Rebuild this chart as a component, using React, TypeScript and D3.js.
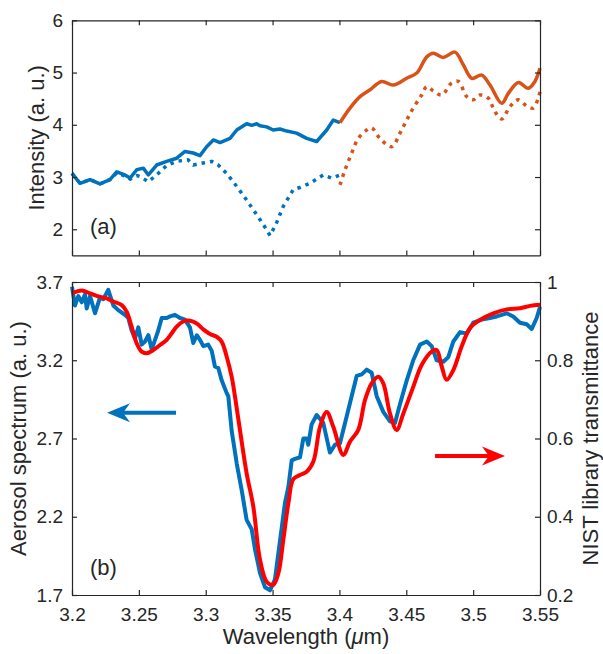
import React, { useEffect, useRef } from 'react';
import * as d3 from 'd3';

// ---- data (wavelength in um, value) ----
const topBlueSolid: [number, number][] = [
  [3.2, 3.07], [3.206, 2.88], [3.2135, 2.95], [3.2209, 2.87], [3.2284, 2.95], [3.2334, 3.1],
  [3.2396, 3.04], [3.2434, 2.98], [3.2484, 3.14], [3.2533, 3.17], [3.2571, 3.04], [3.2633, 3.23],
  [3.2708, 3.3], [3.2783, 3.36], [3.2845, 3.49], [3.2907, 3.46], [3.2957, 3.41], [3.3007, 3.58],
  [3.3057, 3.71], [3.3107, 3.66], [3.3182, 3.74], [3.3232, 3.9], [3.3306, 4.02], [3.3345, 3.99],
  [3.3381, 4.02], [3.3406, 3.98], [3.3456, 3.96], [3.3505, 3.9], [3.3555, 3.92], [3.3606, 3.88],
  [3.368, 3.84], [3.3755, 3.74], [3.383, 3.68], [3.3905, 3.9], [3.3954, 4.09], [3.4004, 4.04],
];

const topBlueDotted: [number, number][] = [
  [3.2, 3.07], [3.206, 2.88], [3.2135, 2.95], [3.2209, 2.87], [3.2284, 2.95], [3.2334, 3.08],
  [3.2396, 3.02], [3.2434, 2.96], [3.2484, 3.03], [3.2509, 3.01], [3.2571, 2.91], [3.2633, 3.04],
  [3.2708, 3.22], [3.2783, 3.3], [3.2868, 3.33], [3.2907, 3.23], [3.2982, 3.27], [3.3045, 3.3],
  [3.3094, 3.23], [3.3157, 3.07], [3.3232, 2.82], [3.3306, 2.56], [3.3381, 2.28], [3.3456, 1.99],
  [3.3481, 1.88], [3.3526, 2.1], [3.358, 2.44], [3.3618, 2.6], [3.3655, 2.76], [3.3705, 2.8],
  [3.378, 2.88], [3.3879, 3.04], [3.3942, 2.98], [3.4004, 3.04],
];

const topOrangeSolid: [number, number][] = [
  [3.4004, 4.04], [3.4079, 4.32], [3.4154, 4.54], [3.4229, 4.67], [3.4316, 4.83], [3.4403, 4.76],
  [3.4503, 4.89], [3.4578, 4.99], [3.4653, 5.3], [3.4702, 5.37], [3.4777, 5.29], [3.4864, 5.39],
  [3.4926, 5.15], [3.4989, 4.89], [3.5064, 4.95], [3.5126, 4.76], [3.5214, 4.41], [3.5263, 4.6],
  [3.5338, 4.81], [3.5412, 4.7], [3.5462, 4.83], [3.55, 5.08],
];

const topOrangeDotted: [number, number][] = [
  [3.4004, 2.85], [3.4042, 3.14], [3.4092, 3.46], [3.4141, 3.74], [3.4204, 3.9], [3.4241, 3.94],
  [3.4303, 3.74], [3.4391, 3.58], [3.4453, 3.84], [3.4503, 4.09], [3.4552, 4.32], [3.4615, 4.57],
  [3.4653, 4.73], [3.4702, 4.65], [3.4765, 4.57], [3.4839, 4.8], [3.4889, 4.83], [3.4952, 4.54],
  [3.5001, 4.48], [3.5051, 4.57], [3.5113, 4.51], [3.5163, 4.25], [3.5214, 4.11], [3.5276, 4.35],
  [3.5338, 4.48], [3.54, 4.36], [3.545, 4.32], [3.5487, 4.51], [3.55, 4.63],
];

const aerosol: [number, number][] = [
  [3.2, 3.67], [3.2022, 3.55], [3.2047, 3.61], [3.2073, 3.57], [3.2097, 3.62], [3.211, 3.53],
  [3.2135, 3.61], [3.2172, 3.5], [3.2209, 3.6], [3.2234, 3.59], [3.2271, 3.65], [3.2309, 3.55],
  [3.2346, 3.52], [3.2396, 3.49], [3.2421, 3.47], [3.2446, 3.39], [3.2471, 3.34], [3.2496, 3.41],
  [3.2521, 3.3], [3.2546, 3.32], [3.2571, 3.36], [3.2596, 3.27], [3.2621, 3.33], [3.2645, 3.39],
  [3.2671, 3.47], [3.2708, 3.47], [3.2733, 3.48], [3.277, 3.49], [3.2808, 3.47], [3.2845, 3.46],
  [3.2882, 3.41], [3.2907, 3.31], [3.2933, 3.36], [3.2957, 3.33], [3.2982, 3.29], [3.3019, 3.3],
  [3.3045, 3.26], [3.3069, 3.16], [3.3094, 3.15], [3.312, 3.07], [3.3157, 2.99], [3.3169, 2.97],
  [3.3194, 2.75], [3.3232, 2.54], [3.3269, 2.37], [3.3306, 2.18], [3.3344, 2.12], [3.3369, 1.99],
  [3.3406, 1.84], [3.3443, 1.75], [3.3481, 1.73], [3.3518, 1.8], [3.3556, 2.05], [3.3593, 2.29],
  [3.3618, 2.39], [3.3643, 2.56], [3.3668, 2.57], [3.3705, 2.58], [3.373, 2.7], [3.3755, 2.7],
  [3.3767, 2.66], [3.3792, 2.79], [3.383, 2.85], [3.3879, 2.8], [3.3929, 2.61], [3.3967, 2.66],
  [3.4004, 2.67], [3.4054, 2.84], [3.4129, 3.1], [3.4167, 3.11], [3.4204, 3.14], [3.4241, 3.12],
  [3.4279, 2.97], [3.4328, 2.87], [3.4378, 2.81], [3.4416, 2.8], [3.4453, 2.92], [3.4503, 3.07],
  [3.4552, 3.2], [3.4603, 3.3], [3.4653, 3.32], [3.469, 3.29], [3.4727, 3.2], [3.4777, 3.19],
  [3.4814, 3.22], [3.4852, 3.32], [3.4902, 3.38], [3.4952, 3.37], [3.5001, 3.44], [3.5064, 3.46],
  [3.5126, 3.47], [3.5176, 3.48], [3.5251, 3.5], [3.53, 3.48], [3.535, 3.44], [3.54, 3.43],
  [3.5438, 3.4], [3.5475, 3.47], [3.55, 3.54],
];

const nist: [number, number][] = [
  [3.2, 0.971], [3.2073, 0.978], [3.2135, 0.971], [3.2209, 0.962], [3.226, 0.958], [3.2309, 0.95],
  [3.2372, 0.941], [3.2409, 0.924], [3.2446, 0.886], [3.2484, 0.843], [3.2521, 0.822], [3.2559, 0.818],
  [3.2608, 0.826], [3.2658, 0.839], [3.2708, 0.852], [3.2746, 0.869], [3.2783, 0.886], [3.2832, 0.899],
  [3.2882, 0.901], [3.2933, 0.894], [3.2982, 0.879], [3.3032, 0.867], [3.3082, 0.86], [3.312, 0.847],
  [3.3157, 0.809], [3.3194, 0.758], [3.3219, 0.707], [3.3256, 0.622], [3.3306, 0.511], [3.3356, 0.426],
  [3.3406, 0.29], [3.3456, 0.234], [3.3505, 0.226], [3.3543, 0.255], [3.358, 0.34], [3.3618, 0.434],
  [3.3655, 0.496], [3.3705, 0.507], [3.3755, 0.515], [3.3805, 0.541], [3.3855, 0.63], [3.3905, 0.668],
  [3.3954, 0.63], [3.4029, 0.558], [3.4079, 0.592], [3.4141, 0.622], [3.4191, 0.698], [3.4241, 0.741],
  [3.4291, 0.758], [3.4328, 0.741], [3.4378, 0.664], [3.4428, 0.622], [3.4478, 0.664], [3.4552, 0.732],
  [3.4615, 0.788], [3.469, 0.822], [3.4727, 0.826], [3.4765, 0.784], [3.4802, 0.75], [3.4852, 0.775],
  [3.4914, 0.835], [3.4976, 0.882], [3.5051, 0.903], [3.5151, 0.92], [3.5251, 0.93], [3.535, 0.933],
  [3.5425, 0.939], [3.55, 0.942],
];

const xTicks = [3.2, 3.25, 3.3, 3.35, 3.4, 3.45, 3.5, 3.55];
const xTickLabels = ['3.2', '3.25', '3.3', '3.35', '3.4', '3.45', '3.5', '3.55'];
const topTicks = [2, 3, 4, 5, 6];
const leftTicks = [1.7, 2.2, 2.7, 3.2, 3.7];
const rightTicks = [0.2, 0.4, 0.6, 0.8, 1];

const BLUE = '#0072BD';
const ORANGE = '#D95319';
const RED = '#FF0000';
const INK = '#262626';
const FONT = '"Liberation Sans", Arial, sans-serif';

const App = () => {
  const svgRef = useRef<SVGSVGElement>(null);

  useEffect(() => {
    const svg = d3.select(svgRef.current);
    svg.selectAll('*').remove();

    const L = 72, R = 540;
    const aTop = 20.3, aBot = 255.4;
    const bTop = 282, bBot = 595;

    const x = d3.scaleLinear().domain([3.2, 3.55]).range([L, R]);
    const yA = d3.scaleLinear().domain([1.5, 6]).range([aBot, aTop]);
    const yB = d3.scaleLinear().domain([1.7, 3.7]).range([bBot, bTop]);
    const yR = d3.scaleLinear().domain([0.2, 1]).range([bBot, bTop]);

    const styleAxis = (g: any, labels = true) => {
      g.select('.domain').attr('stroke', INK).attr('stroke-width', 1.2);
      g.selectAll('.tick line').attr('stroke', INK).attr('stroke-width', 1.2);
      g.selectAll('.tick text').attr('fill', INK).attr('font-size', 19).attr('font-family', FONT);
      if (!labels) g.selectAll('.tick text').remove();
    };

    // ---- panel (a) ----
    const lineA = d3.line<[number, number]>().x(d => x(d[0])).y(d => yA(d[1]));
    const lineASmooth = d3.line<[number, number]>().x(d => x(d[0])).y(d => yA(d[1])).curve(d3.curveCatmullRom);
    const drawA = (data: [number, number][], color: string, dotted: boolean, smooth: boolean) => {
      svg.append('path').datum(data)
        .attr('fill', 'none').attr('stroke', color).attr('stroke-width', 3.5)
        .attr('stroke-linejoin', 'round')
        .attr('stroke-dasharray', dotted ? '3.5,5' : null)
        .attr('d', smooth ? lineASmooth : lineA);
    };
    drawA(topBlueDotted, BLUE, true, false);
    drawA(topOrangeDotted, ORANGE, true, true);
    drawA(topBlueSolid, BLUE, false, false);
    drawA(topOrangeSolid, ORANGE, false, true);

    styleAxis(svg.append('g').attr('transform', `translate(0,${aBot})`)
      .call(d3.axisBottom(x).tickValues(xTicks).tickSizeInner(-5).tickSizeOuter(0)), false);
    styleAxis(svg.append('g').attr('transform', `translate(0,${aTop})`)
      .call(d3.axisTop(x).tickValues(xTicks).tickSizeInner(-5).tickSizeOuter(0)), false);
    styleAxis(svg.append('g').attr('transform', `translate(${L},0)`)
      .call(d3.axisLeft(yA).tickValues(topTicks).tickSizeInner(-5).tickSizeOuter(0).tickPadding(9).tickFormat(d3.format('d'))));
    styleAxis(svg.append('g').attr('transform', `translate(${R},0)`)
      .call(d3.axisRight(yA).tickValues(topTicks).tickSizeInner(-5).tickSizeOuter(0)), false);

    svg.append('text')
      .attr('transform', `translate(44,${(aTop + aBot) / 2}) rotate(-90)`)
      .attr('text-anchor', 'middle').attr('font-size', 22).attr('font-family', FONT).attr('fill', INK)
      .text('Intensity (a. u.)');
    svg.append('text').attr('x', 90).attr('y', 234)
      .attr('font-size', 22).attr('font-family', FONT).attr('fill', INK).text('(a)');

    // ---- panel (b) ----
    const lineB = d3.line<[number, number]>().x(d => x(d[0])).y(d => yB(d[1]));
    const lineR = d3.line<[number, number]>().x(d => x(d[0])).y(d => yR(d[1])).curve(d3.curveCatmullRom);

    svg.append('path').datum(aerosol)
      .attr('fill', 'none').attr('stroke', BLUE).attr('stroke-width', 4)
      .attr('stroke-linejoin', 'round').attr('d', lineB);
    svg.append('path').datum(nist)
      .attr('fill', 'none').attr('stroke', RED).attr('stroke-width', 4)
      .attr('stroke-linejoin', 'round').attr('d', lineR);

    styleAxis(svg.append('g').attr('transform', `translate(0,${bBot})`)
      .call(d3.axisBottom(x).tickValues(xTicks).tickSizeInner(-5).tickSizeOuter(0).tickPadding(13)
        .tickFormat((_d, i) => xTickLabels[i])));
    styleAxis(svg.append('g').attr('transform', `translate(0,${bTop})`)
      .call(d3.axisTop(x).tickValues(xTicks).tickSizeInner(-5).tickSizeOuter(0)), false);
    styleAxis(svg.append('g').attr('transform', `translate(${L},0)`)
      .call(d3.axisLeft(yB).tickValues(leftTicks).tickSizeInner(-5).tickSizeOuter(0).tickPadding(9).tickFormat(d3.format('.1f'))));
    styleAxis(svg.append('g').attr('transform', `translate(${R},0)`)
      .call(d3.axisRight(yR).tickValues(rightTicks).tickSizeInner(-5).tickSizeOuter(0).tickPadding(7)
        .tickFormat(d => (d === 1 ? '1' : d3.format('.1f')(d as number)))));

    svg.append('text')
      .attr('transform', `translate(26,${(bTop + bBot) / 2}) rotate(-90)`)
      .attr('text-anchor', 'middle').attr('font-size', 22).attr('font-family', FONT).attr('fill', INK)
      .text('Aerosol spectrum (a. u.)');
    svg.append('text')
      .attr('transform', `translate(598,${(bTop + bBot) / 2}) rotate(-90)`)
      .attr('text-anchor', 'middle').attr('font-size', 22).attr('font-family', FONT).attr('fill', INK)
      .text('NIST library transmittance');
    svg.append('text').attr('x', 90).attr('y', 575)
      .attr('font-size', 22).attr('font-family', FONT).attr('fill', INK).text('(b)');

    const xl = svg.append('text')
      .attr('x', (L + R) / 2).attr('y', 644)
      .attr('text-anchor', 'middle').attr('font-size', 22).attr('font-family', FONT).attr('fill', INK);
    xl.append('tspan').text('Wavelength (');
    xl.append('tspan').attr('font-style', 'italic').text('\u03bc');
    xl.append('tspan').text('m)');

    // ---- direction arrows ----
    const arrow = (x0: number, x1: number, yv: number, color: string) => {
      const px0 = x(x0), px1 = x(x1);
      const dir = Math.sign(px1 - px0);
      const back = px1 - dir * 23, notch = px1 - dir * 16;
      svg.append('line')
        .attr('x1', px0).attr('x2', notch).attr('y1', yv).attr('y2', yv)
        .attr('stroke', color).attr('stroke-width', 4);
      svg.append('path')
        .attr('d', `M${px1},${yv}L${back},${yv - 9.5}L${notch},${yv}L${back},${yv + 9.5}Z`)
        .attr('fill', color);
    };
    arrow(3.2778, 3.2262, yB(2.864), BLUE);
    arrow(3.4715, 3.5238, yR(0.555), RED);
  }, []);

  return (
    <svg ref={svgRef} width={603} height={654}
      style={{ position: 'absolute', left: 0, top: 0, background: '#fff' }} />
  );
};

export default App;
